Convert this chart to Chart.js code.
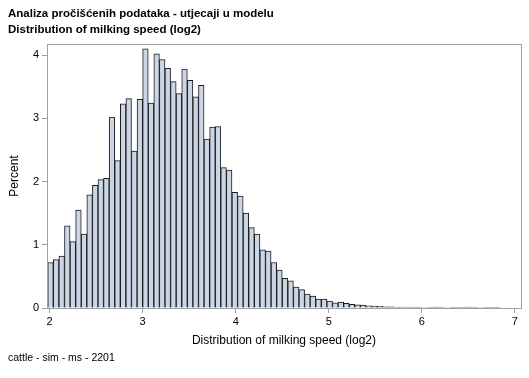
<!DOCTYPE html>
<html>
<head>
<meta charset="utf-8">
<script src="https://cdn.jsdelivr.net/npm/chart.js@4.4.1/dist/chart.umd.min.js"></script>
<style>
  body { margin: 0; background: #fff; }
  #wrap { width: 529px; height: 378px; }
</style>
</head>
<body>
<div id="wrap"><canvas id="myChart" width="529" height="378"></canvas></div>
<script>
const titleLines = ['Analiza pročišćenih podataka - utjecaji u modelu', 'Distribution of milking speed (log2)'];
const footnote = 'cattle - sim - ms - 2201';
const xTitle = 'Distribution of milking speed (log2)';
const yTitle = 'Percent';

// bin midpoints (bin width 0.06)
const binMids = [2.01,2.07,2.13,2.19,2.25,2.31,2.37,2.43,2.49,2.55,2.61,2.67,2.73,2.79,2.85,2.91,2.97,
  3.03,3.09,3.15,3.21,3.27,3.33,3.39,3.45,3.51,3.57,3.63,3.69,3.75,3.81,3.87,3.93,3.99,
  4.05,4.11,4.17,4.23,4.29,4.35,4.41,4.47,4.53,4.59,4.65,4.71,4.77,4.83,4.89,4.95,
  5.01,5.07,5.13,5.19,5.25,5.31,5.37,5.43,5.49,5.55,5.61,5.67,5.73,5.79,5.85,5.91,5.97,
  6.03,6.09,6.15,6.21,6.27,6.33,6.39,6.45,6.51,6.57,6.63,6.69,6.75,6.81];

const percent = [0.72,0.765,0.82,1.30,1.05,1.55,1.17,1.79,1.94,2.03,2.05,3.02,2.33,3.23,3.31,2.48,3.30,
  4.10,3.24,4.02,3.93,3.79,3.58,3.39,3.78,3.60,3.34,3.52,2.67,2.86,2.87,2.22,2.18,
  1.83,1.77,1.50,1.27,1.17,0.92,0.90,0.72,0.60,0.47,0.43,0.33,0.29,0.22,0.19,0.14,0.14,
  0.11,0.08,0.095,0.073,0.057,0.052,0.048,0.036,0.032,0.028,0.02,0.02,0.015,0.015,0.015,
  0.012,0.01,0.008,0.01,0.014,0.01,0.008,0.006,0.01,0.012,0.014,0.01,0.008,0.006,0.005,0.004];

const xTicks = [2, 3, 4, 5, 6, 7];

const axisGray = '#a0a0a0';
const font = '"Liberation Sans", Arial, sans-serif';

const frameAndText = {
  id: 'frameAndText',
  afterDraw(chart) {
    const c = chart.ctx;
    const a = chart.chartArea;
    c.save();
    c.strokeStyle = axisGray;
    c.lineWidth = 1;
    c.strokeRect(Math.round(a.left) + 0.5, Math.round(a.top) + 0.5, Math.round(a.right - a.left), Math.round(a.bottom - a.top));
    c.fillStyle = '#000';
    c.textBaseline = 'middle';
    c.textAlign = 'left';
    c.font = 'bold 11.5px ' + font;
    c.fillText(titleLines[0], 8, 14);
    c.fillText(titleLines[1], 8, 30);
    c.font = '10.5px ' + font;
    c.fillText(footnote, 8, 358);
    c.restore();
  }
};

const ctx = document.getElementById('myChart');

new Chart(ctx, {
  type: 'bar',
  data: {
    datasets: [{
      data: binMids.map((x, i) => ({ x: x, y: percent[i] })),
      backgroundColor: '#cad5e5',
      borderColor: '#1a1a1a',
      borderWidth: 1,
      barPercentage: 1,
      categoryPercentage: 1
    }]
  },
  options: {
    responsive: false,
    animation: false,
    layout: { padding: { top: 44, left: 0, right: 8, bottom: 28 } },
    plugins: { legend: { display: false }, tooltip: { enabled: false } },
    scales: {
      x: {
        type: 'linear',
        offset: false,
        min: 1.972,
        max: 7.066,
        afterBuildTicks: (s) => { s.ticks = xTicks.map(v => ({ value: v })); },
        afterFit: (s) => { s.height = 42; },
        ticks: { color: '#000', font: { size: 11, family: font }, padding: 2, maxRotation: 0 },
        grid: { offset: false, drawOnChartArea: false, tickLength: 5, color: axisGray },
        border: { color: axisGray },
        title: { display: true, text: xTitle, color: '#000', font: { size: 12, family: font }, padding: { top: 4, bottom: 2 } }
      },
      y: {
        min: 0,
        max: 4.175,
        afterBuildTicks: (s) => { s.ticks = [0, 1, 2, 3, 4].map(v => ({ value: v })); },
        afterFit: (s) => { s.width = 47; },
        ticks: { color: '#000', font: { size: 11, family: font }, padding: 3 },
        grid: { drawOnChartArea: false, tickLength: 5, color: axisGray },
        border: { color: axisGray },
        title: { display: true, text: yTitle, color: '#000', font: { size: 12, family: font }, padding: { top: 7, bottom: 2 } }
      }
    }
  },
  plugins: [frameAndText]
});
</script>
</body>
</html>
